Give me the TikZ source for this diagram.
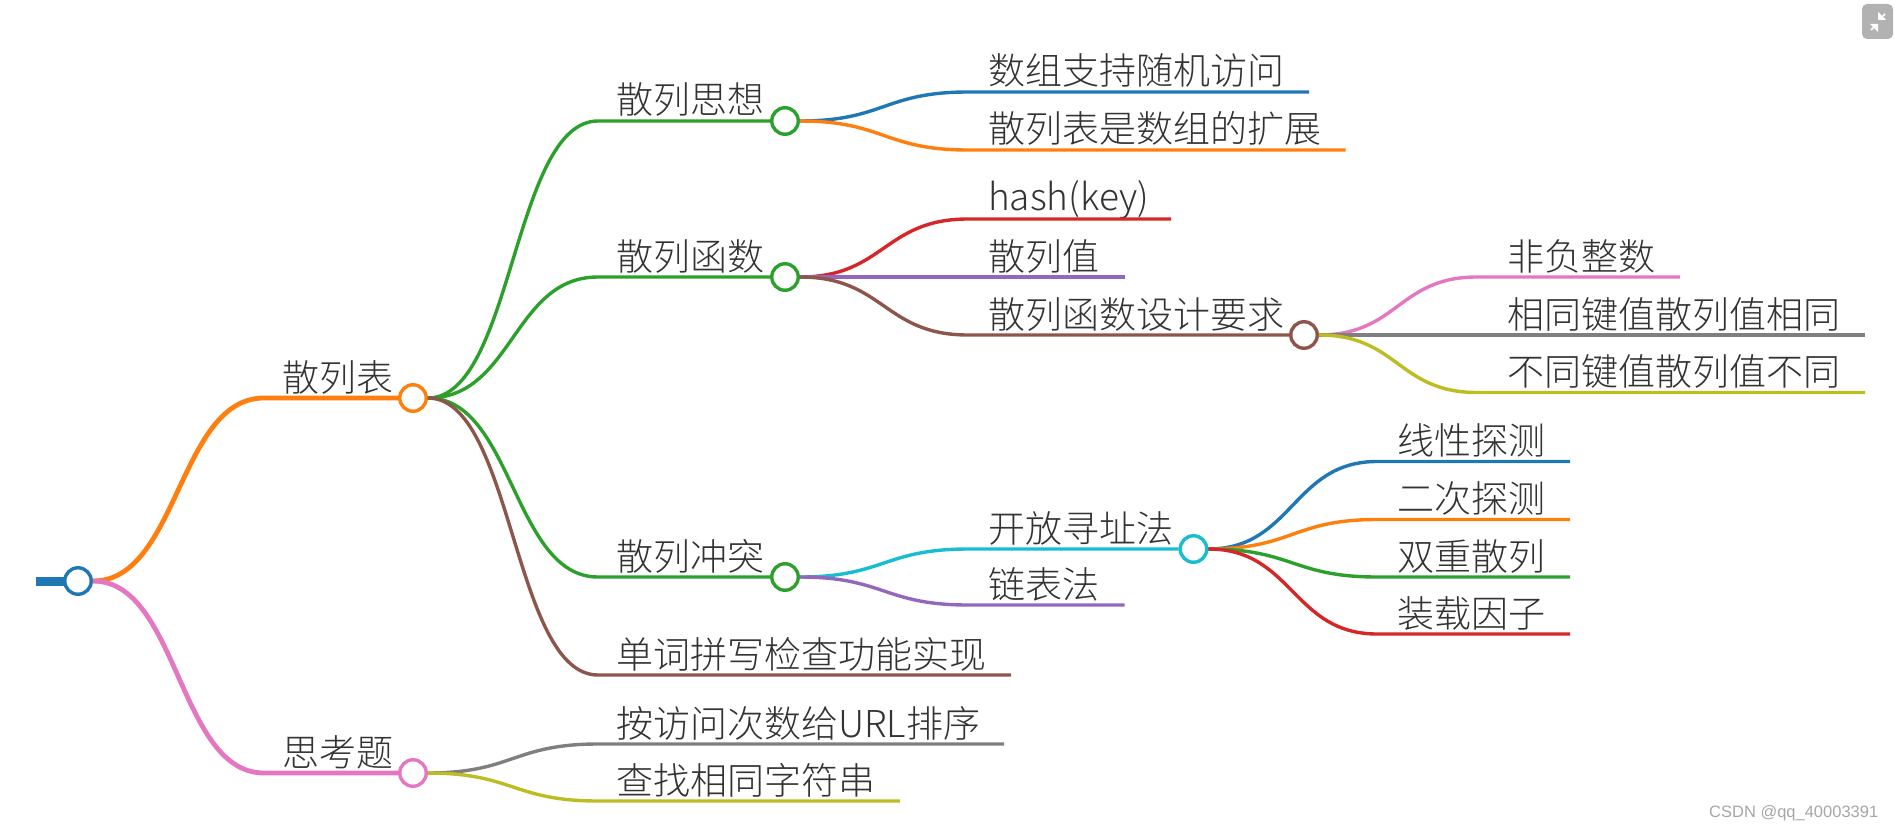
\documentclass[tikz,border=0pt]{standalone}
\usepackage{fontspec}
\usetikzlibrary{calc}
\setmainfont{Noto Sans CJK SC}[UprightFont=* Light]
\newfontfamily\wmfont{Liberation Sans}
\definecolor{cA}{HTML}{1F77B4}\definecolor{cB}{HTML}{FF7F0E}\definecolor{cC}{HTML}{2CA02C}
\definecolor{cD}{HTML}{D62728}\definecolor{cE}{HTML}{9467BD}\definecolor{cF}{HTML}{8C564B}
\definecolor{cG}{HTML}{E377C2}\definecolor{cH}{HTML}{7F7F7F}\definecolor{cI}{HTML}{BCBD22}
\definecolor{cJ}{HTML}{17BECF}
\tikzset{
  knot/.style={circle,draw=#1,fill=white,line width=3.4pt,minimum size=26.5pt,inner sep=0pt},
  lbl/.style={anchor=base west,inner sep=0pt,text=black!80,font=\fontsize{37pt}{37pt}\selectfont},
  thickbranch/.style={line width=4.8pt},
  thinbranch/.style={line width=3.4pt}
}
% \conn{style}{colour}{from}{elbow}{end}
\newcommand{\conn}[5]{%
  \draw[#1,draw=#2] (#3) .. controls ($(#3)!0.5!(#4 |- #3)$) and ($(#3 |- #4)!0.5!(#4)$) .. (#4) -- (#5);}
\begin{document}
\begin{tikzpicture}[x=1pt,y=-1pt]
\useasboundingbox (0,0) rectangle (1894,829);
% knots
\node[knot=cA] (root) at (78,581) {};
\node[knot=cB] (hb) at (413,398) {};
\node[knot=cG] (sk) at (413,773) {};
\node[knot=cC] (sx) at (785,121) {};
\node[knot=cC] (hs) at (785,277) {};
\node[knot=cC] (ct) at (785,577) {};
\node[knot=cF] (sj) at (1304,335) {};
\node[knot=cJ] (kf) at (1193.5,549) {};
% labels
\node[lbl] (t1) at (282,391) {散列表};
\node[lbl] (t2) at (282,766) {思考题};
\node[lbl] (t3) at (616,114) {散列思想};
\node[lbl] (t4) at (616,270) {散列函数};
\node[lbl] (t5) at (616,570) {散列冲突};
\node[lbl] (t6) at (616,668) {单词拼写检查功能实现};
\node[lbl] (t7) at (616,737) {按访问次数给URL排序};
\node[lbl] (t8) at (616,794) {查找相同字符串};
\node[lbl] (t9) at (988,85) {数组支持随机访问};
\node[lbl] (t10) at (988,143) {散列表是数组的扩展};
\node[lbl] (t11) at (988,211) {hash(key)};
\node[lbl] (t12) at (988,270) {散列值};
\node[lbl] (t13) at (988,328) {散列函数设计要求};
\node[lbl] (t14) at (988,542) {开放寻址法};
\node[lbl] (t15) at (988,598) {链表法};
\node[lbl] (t16) at (1507,270) {非负整数};
\node[lbl] (t17) at (1507,328) {相同键值散列值相同};
\node[lbl] (t18) at (1507,385.5) {不同键值散列值不同};
\node[lbl] (t19) at (1397,454.5) {线性探测};
\node[lbl] (t20) at (1397,512.5) {二次探测};
\node[lbl] (t21) at (1397,570) {双重散列};
\node[lbl] (t22) at (1397,627) {装载因子};
% elbows and free ends
\coordinate (stub) at (36,581);
\coordinate (e1) at (264,398);\coordinate (e2) at (264,773);
\coordinate (e3) at (598,121);\coordinate (e4) at (598,277);\coordinate (e5) at (598,577);
\coordinate (e6) at (598,675);\coordinate (f6) at (1011,675);
\coordinate (e7) at (598,744);\coordinate (f7) at (1004,744);
\coordinate (e8) at (598,801);\coordinate (f8) at (900,801);
\coordinate (e9) at (968,92);\coordinate (f9) at (1309,92);
\coordinate (e10) at (968,150);\coordinate (f10) at (1345.5,150);
\coordinate (e11) at (968,219);\coordinate (f11) at (1171,219);
\coordinate (e12) at (968,277);\coordinate (f12) at (1124.5,277);
\coordinate (e13) at (968,335);
\coordinate (e14) at (968,549);
\coordinate (e15) at (968,605);\coordinate (f15) at (1124.5,605);
\coordinate (e16) at (1477,277);\coordinate (f16) at (1680,277);
\coordinate (e17) at (1477,335);\coordinate (f17) at (1865,335);
\coordinate (e18) at (1477,392.5);\coordinate (f18) at (1865,392.5);
\coordinate (e19) at (1377,461.5);\coordinate (f19) at (1570,461.5);
\coordinate (e20) at (1377,519.5);\coordinate (f20) at (1570,519.5);
\coordinate (e21) at (1377,577);\coordinate (f21) at (1570,577);
\coordinate (e22) at (1377,634);\coordinate (f22) at (1570,634);
% connectors
\draw[line width=9pt,draw=cA,shorten >=-1.5pt] (stub) -- (root.west);
\conn{thickbranch}{cB}{root.east}{e1}{hb.west}
\conn{thickbranch}{cG}{root.east}{e2}{sk.west}
\conn{thinbranch}{cC}{hb.east}{e3}{sx.west}
\conn{thinbranch}{cC}{hb.east}{e4}{hs.west}
\conn{thinbranch}{cC}{hb.east}{e5}{ct.west}
\conn{thinbranch}{cF}{hb.east}{e6}{f6}
\conn{thinbranch}{cH}{sk.east}{e7}{f7}
\conn{thinbranch}{cI}{sk.east}{e8}{f8}
\conn{thinbranch}{cA}{sx.east}{e9}{f9}
\conn{thinbranch}{cB}{sx.east}{e10}{f10}
\conn{thinbranch}{cD}{hs.east}{e11}{f11}
\conn{thinbranch}{cE}{hs.east}{e12}{f12}
\conn{thinbranch}{cF}{hs.east}{e13}{sj.west}
\conn{thinbranch}{cJ}{ct.east}{e14}{kf.west}
\conn{thinbranch}{cE}{ct.east}{e15}{f15}
\conn{thinbranch}{cG}{sj.east}{e16}{f16}
\conn{thinbranch}{cH}{sj.east}{e17}{f17}
\conn{thinbranch}{cI}{sj.east}{e18}{f18}
\conn{thinbranch}{cA}{kf.east}{e19}{f19}
\conn{thinbranch}{cB}{kf.east}{e20}{f20}
\conn{thinbranch}{cC}{kf.east}{e21}{f21}
\conn{thinbranch}{cD}{kf.east}{e22}{f22}
% corner button
\fill[black!30,rounded corners=5pt] (1862,4) rectangle (1893,39);
\draw[white,line width=1.6pt] (1871,30) -- (1876,25);
\fill[white] (1870,24) -- (1878,24) -- (1878,32) -- cycle;
\draw[white,line width=1.6pt] (1885,14) -- (1880,19);
\fill[white] (1886,20) -- (1878,20) -- (1878,12) -- cycle;
% watermark
\node[anchor=base west,inner sep=0pt,text=black!35,font=\wmfont\fontsize{16.5pt}{16.5pt}\selectfont] (wm) at (1709,817) {CSDN @qq\_40003391};
\end{tikzpicture}
\end{document}
